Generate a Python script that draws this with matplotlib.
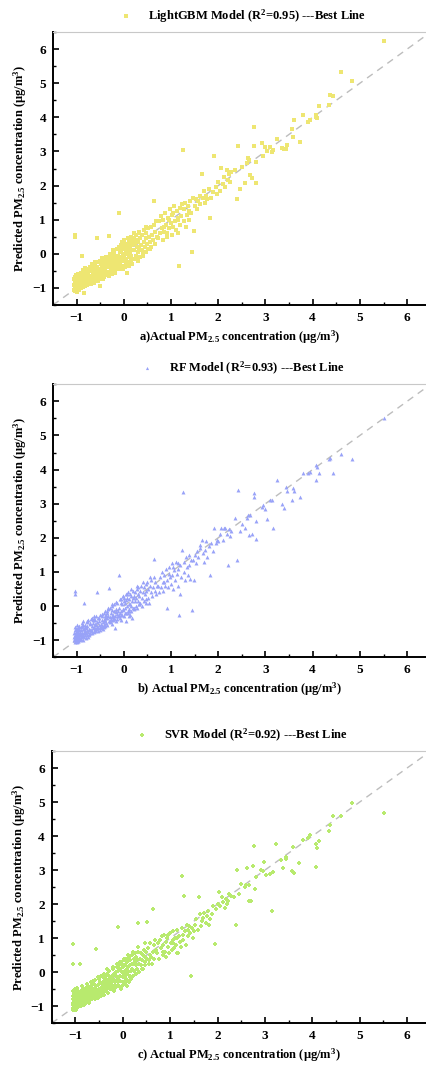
import matplotlib
matplotlib.use("Agg")
import matplotlib.pyplot as plt
from matplotlib.ticker import MultipleLocator

# actual PM2.5 values (same test set for all three models), grouped in bands of x
actual = [
    # tail x >= 2.35
    5.52, 4.83, 4.61, 4.44, 4.37, 4.35, 4.14, 4.10, 4.08, 4.07, 3.95, 3.90, 3.80, 3.73, 3.61,
    3.59, 3.57, 3.45, 3.44, 3.39, 3.34, 3.24, 3.17, 3.14, 3.10, 3.03, 2.99, 2.95, 2.92, 2.81,
    2.79, 2.76, 2.75, 2.71, 2.67, 2.66, 2.62, 2.60, 2.57, 2.50, 2.46, 2.42, 2.39, 2.35,
    # 1.45 - 2.3
    2.28, 2.25, 2.22, 2.20, 2.18, 2.15, 2.12, 2.10, 2.06, 2.03, 2.00, 1.97, 1.95, 1.91,
    1.88, 1.85, 1.82, 1.80, 1.77, 1.75, 1.72, 1.70, 1.68, 1.65, 1.62, 1.61, 1.58, 1.55,
    1.52, 1.50, 1.49, 1.47, 1.45,
    # 0.7 - 1.45
    0.72, 0.74, 0.76, 0.78, 0.80, 0.82, 0.84, 0.86, 0.88, 0.90,
    0.91, 0.92, 0.94, 0.96, 0.98, 1.00, 1.01, 1.03, 1.05, 1.06,
    1.08, 1.10, 1.12, 1.14, 1.15, 1.17, 1.19, 1.20, 1.22, 1.24,
    1.25, 1.27, 1.28, 1.30, 1.32, 1.33, 1.35, 1.37, 1.38, 1.40,
    1.42, 0.85, 0.95, 1.05, 1.15,
    # 0.2 - 0.7
    0.21, 0.22, 0.23, 0.24, 0.25, 0.26, 0.27, 0.28, 0.29, 0.30,
    0.31, 0.32, 0.33, 0.34, 0.35, 0.36, 0.38, 0.39, 0.40, 0.42,
    0.43, 0.44, 0.46, 0.47, 0.48, 0.50, 0.51, 0.52, 0.54, 0.55,
    0.57, 0.58, 0.60, 0.62, 0.63, 0.64, 0.66, 0.67, 0.68, 0.70,
    # -0.1 - 0.2
    -0.09, -0.08, -0.07, -0.06, -0.05, -0.05, -0.04, -0.03, -0.02, -0.01,
    0.00, 0.00, 0.01, 0.02, 0.03, 0.04, 0.05, 0.05, 0.06, 0.07,
    0.08, 0.09, 0.10, 0.10, 0.11, 0.12, 0.13, 0.14, 0.15, 0.15,
    0.16, 0.17, 0.18, 0.19, 0.20, 0.20, -0.02, 0.04, 0.08, 0.13,
    # -0.4 - -0.1
    -0.39, -0.38, -0.37, -0.36, -0.35, -0.35, -0.34, -0.33, -0.32, -0.31,
    -0.30, -0.30, -0.29, -0.28, -0.27, -0.26, -0.25, -0.25, -0.24, -0.23,
    -0.22, -0.21, -0.20, -0.20, -0.19, -0.18, -0.17, -0.16, -0.15, -0.15,
    -0.14, -0.13, -0.12, -0.11, -0.10, -0.10, -0.35, -0.28, -0.22, -0.16,
    # -0.7 - -0.4
    -0.69, -0.68, -0.68, -0.67, -0.66, -0.66, -0.65, -0.64, -0.63, -0.63,
    -0.62, -0.61, -0.60, -0.60, -0.59, -0.58, -0.57, -0.56, -0.56, -0.55,
    -0.54, -0.53, -0.52, -0.51, -0.50, -0.50, -0.49, -0.48, -0.47, -0.46,
    -0.46, -0.45, -0.44, -0.43, -0.42, -0.42, -0.41, -0.40, -0.40, -0.40,
    # -0.92 - -0.7
    -0.91, -0.91, -0.90, -0.90, -0.89, -0.89, -0.88, -0.88, -0.87, -0.87,
    -0.86, -0.86, -0.85, -0.85, -0.84, -0.84, -0.83, -0.83, -0.82, -0.82,
    -0.81, -0.80, -0.80, -0.79, -0.78, -0.78, -0.77, -0.76, -0.76, -0.75,
    -0.74, -0.73, -0.72, -0.72, -0.71, -0.70,
    # lowest values
    -1.05, -1.05, -1.05, -1.04, -1.04, -1.04, -1.04, -1.03, -1.03, -1.03,
    -1.02, -1.02, -1.02, -1.01, -1.01, -1.01, -1.00, -1.00, -1.00, -1.00,
    -0.99, -0.99, -0.99, -0.98, -0.98, -0.98, -0.97, -0.97, -0.97, -0.96,
    -0.96, -0.96, -0.95, -0.95, -0.95, -0.94, -0.94, -0.93, -0.93, -0.92,
    -1.04, -1.04,
    # more of the dense core
    -1.00, -0.97, -0.94, -0.90, -0.86, -0.83, -0.80, -0.77, -0.74, -0.71,
    -0.67, -0.64, -0.61, -0.58, -0.55, -0.52, -0.49, -0.46, -0.43, -0.40,
    -0.37, -0.33, -0.29, -0.25, -0.21, -0.17, -0.13, -0.09, -0.05, -0.01,
    0.03, 0.07, 0.11, 0.16, 0.21, 0.27, 0.33, 0.40, 0.47, 0.55]

pred_lgbm = [
    6.23, 5.06, 5.34, 4.63, 4.65, 4.36, 4.33, 3.97, 4.07, 4.02, 3.92, 3.85, 4.07, 3.27, 3.92,
    3.41, 3.65, 3.19, 3.07, 3.07, 3.10, 3.38, 3.05, 2.98, 3.14, 3.00, 3.14, 2.87, 3.24, 2.70,
    2.09, 3.71, 3.17, 2.22, 2.32, 2.75, 2.80, 2.65, 2.07, 2.55, 1.90, 3.16, 1.61, 2.45,
    2.40, 2.10, 2.35, 2.15, 2.45, 1.95, 2.25, 2.05, 2.51, 1.85, 2.10, 1.75, 1.95, 2.87,
    1.80, 1.65, 1.05, 1.90, 1.60, 1.70, 1.50, 1.85, 1.65, 2.33, 1.45, 1.70, 1.55, 1.30,
    1.60, 1.40, 0.68, 1.65, 0.04,
    0.45, 0.95, 0.60, 1.10, 0.75, 0.40, 1.00, 0.65, 1.20, 0.85,
    0.60, 0.50, 1.05, 0.75, 1.30, 0.90, 0.55, 1.15, 0.80, 1.40,
    0.95, 0.70, 1.25, 1.00, 0.60, -0.37, 1.35, 0.85, 1.10, 1.45,
    3.03, 0.95, 1.30, 1.50, 0.80, 1.15, 1.40, 1.00, 1.25, 1.55,
    1.20, 0.80, 1.00, 1.20, 1.05,
    0.10, 0.45, -0.15, 0.30, 0.55, -0.05, 0.20, 0.40, -0.20, 0.05,
    0.35, 0.60, 0.15, -0.10, 0.45, 0.25, 0.10, 0.55, -0.05, 0.35,
    0.70, 0.20, 0.45, 0.05, 0.60, 0.30, 0.75, 0.15, 0.50, 0.35,
    0.80, 0.20, 0.55, 0.40, 0.85, 1.56, 0.30, 0.65, 0.95, 0.50,
    -0.30, 0.05, -0.20, 0.25, -0.45, 0.10, -0.10, 0.35, -0.35, 0.00,
    -0.20, 0.40, -0.05, 0.20, -0.40, 0.10, -0.15, 0.30, -0.55, 0.00,
    0.45, -0.25, 0.15, -0.10, 0.30, -0.35, 0.05, 0.20, -0.20, 0.50,
    -0.05, 0.25, -0.30, 0.10, 0.35, -0.15, 0.15, -0.28, 0.22, 0.38,
    -0.45, -0.20, -0.60, -0.30, -0.10, -0.52, -0.38, -0.22, -0.65, 0.51,
    -0.40, -0.15, -0.55, -0.30, -0.05, -0.45, -0.25, -0.60, -0.10, -0.35,
    0.10, -0.48, -0.20, -0.02, -0.38, -0.55, -0.12, -0.30, 0.15, -0.45,
    -0.20, -0.05, -0.35, 0.20, 1.20, -0.15, -0.35, -0.48, -0.28, -0.40,
    -0.75, -0.50, -0.30, -0.82, -0.62, -0.40, -0.70, -0.55, -0.85, -0.35,
    -0.60, -0.45, -0.78, -0.25, -0.65, -0.52, -0.72, 0.47, -0.38, -0.58,
    -0.80, -0.45, -0.66, -0.94, -0.50, -0.20, -0.62, -0.70, -0.35, -0.55,
    -0.12, -0.75, -0.42, -0.60, -0.28, -0.50, -0.68, -0.38, -0.15, -0.55,
    -0.95, -0.70, -1.00, -0.55, -0.85, -0.07, -0.92, -0.65, -0.78, -0.48,
    -0.98, -0.72, -1.14, -0.60, -0.88, -0.50, -0.80, -0.68, -0.93, -0.42,
    -0.75, -0.87, -0.58, -0.66, -0.90, -0.45, -0.72, -0.82, -0.55, -0.62,
    -0.85, -0.50, -0.78, -0.40, -0.66, -0.88,
    -1.05, -0.90, -0.75, -1.10, -0.95, -0.82, -0.68, -1.00, -0.88, -0.72,
    -1.08, -0.93, -0.80, -0.98, -0.85, -0.62, -1.12, -0.96, -0.78, -0.66,
    -1.02, -0.87, -0.74, -0.95, -0.83, -0.60, -1.05, -0.90, -0.70, -0.99,
    -0.80, -0.65, -1.07, -0.92, -0.76, -0.86, -0.58, -1.00, -0.72, -0.84,
    0.55, 0.49,
    -0.70, -0.62, -0.80, -0.75, -0.60, -0.95, -0.52, -0.80, -0.48, -0.75,
    -0.45, -0.80, -0.35, -0.70, -0.25, -0.75, -0.30, -0.68, -0.20, -0.62,
    -0.10, -0.55, 0.00, -0.50, 0.05, -0.45, 0.15, -0.40, 0.20, -0.45,
    0.30, -0.35, 0.40, -0.25, 0.60, -0.10, 0.65, 0.05, 0.80, 0.15]

pred_rf = [
    5.50, 4.31, 4.46, 3.89, 4.33, 4.30, 3.89, 4.07, 4.14, 3.70, 3.94, 3.89, 3.89, 3.21, 3.36,
    3.47, 3.11, 3.38, 3.50, 2.87, 3.00, 3.70, 2.28, 3.11, 3.11, 2.55, 2.85, 2.95, 2.90, 2.48,
    1.97, 3.31, 3.19, 2.10, 2.67, 2.09, 2.67, 2.59, 2.30, 2.40, 2.20, 3.40, 1.36, 2.59,
    2.20, 2.05, 2.25, 1.20, 2.10, 2.28, 2.28, 1.95, 2.28, 2.10, 1.90, 1.95, 1.85, 2.28,
    1.60, 1.85, 0.90, 1.75, 1.45, 1.90, 1.65, 1.30, 1.55, 1.95, 1.70, 1.80, 1.45, 1.60,
    1.25, 1.50, 0.75, 1.35, -0.12,
    0.60, 0.40, 0.85, 0.55, 1.00, 0.70, 0.45, 0.90, 0.60, 1.10,
    -0.05, 0.75, 0.55, 1.15, 0.85, 0.65, 1.25, 0.90, 0.50, 1.05,
    0.75, 1.30, 0.95, 0.60, 1.10, -0.26, 0.34, 1.20, 0.85, 1.65,
    3.33, 1.00, 1.30, 0.75, 1.45, 1.15, 0.90, 1.50, 1.20, 0.80,
    1.35, 0.70, 0.95, 1.15, 1.25,
    0.30, -0.10, 0.15, 0.40, 0.00, 0.25, 0.50, -0.05, 0.35, 0.15,
    0.55, 0.05, 0.30, 0.45, 0.10, 0.60, 0.25, 0.00, 0.40, 0.55,
    0.15, 0.35, 0.65, 0.20, 0.45, 0.70, 0.25, 0.50, 0.10, 0.60,
    0.40, 0.75, 0.30, 0.55, 0.85, 1.39, 0.45, 0.70, 0.35, 0.60,
    -0.20, -0.35, 0.10, -0.15, 0.20, -0.40, 0.05, -0.25, 0.30, -0.10,
    0.15, -0.30, 0.25, -0.05, 0.10, -0.45, 0.35, -0.20, 0.00, 0.25,
    -0.15, 0.40, -0.30, 0.05, -0.10, 0.20, -0.25, 0.35, 0.00, -0.15,
    0.30, -0.35, 0.15, 0.45, -0.05, 0.25, -0.12, 0.18, -0.20, 0.05,
    -0.40, -0.25, -0.50, -0.15, -0.35, -0.55, -0.28, -0.10, -0.45, 0.53,
    -0.32, -0.05, -0.48, -0.20, -0.38, -0.12, -0.30, -0.52, 0.00, -0.25,
    -0.42, -0.15, -0.35, 0.05, -0.64, -0.28, -0.45, -0.10, -0.22, 0.10,
    -0.38, -0.15, -0.30, -0.05, 0.92, -0.25, -0.20, -0.40, -0.32, -0.18,
    -0.70, -0.58, -0.35, -0.80, -0.50, -0.65, -0.42, -0.75, -0.60, -0.30,
    -0.68, -0.52, -0.72, -0.40, -0.55, -0.66, -0.48, 0.42, -0.62, -0.35,
    -0.74, -0.56, -0.44, -0.60, -0.70, -0.25, -0.52, -0.64, -0.40, -0.58,
    -0.30, -0.66, -0.48, -0.55, -0.20, -0.62, -0.45, -0.35, -0.58, -0.28,
    -0.90, -0.62, -0.96, -0.70, -0.80, -0.50, -0.88, -0.58, -1.00, -0.66,
    -0.85, -0.45, -0.92, -0.68, 0.09, -0.76, -0.86, -0.55, -0.72, -0.60,
    -0.95, -0.64, -0.80, -0.48, -0.84, -0.70, -0.58, -0.92, -0.42, -0.75,
    -0.66, -0.85, -0.52, -0.70, -0.80, -0.38,
    -1.00, -0.92, -0.80, -1.05, -0.97, -0.88, -0.70, -0.95, -0.85, -0.60,
    -1.02, -0.90, -0.75, -1.00, -0.82, -0.68, -1.06, -0.93, -0.85, -0.55,
    -0.98, -0.88, -0.72, -1.03, -0.80, -0.65, -0.96, -0.86, -0.62, -1.01,
    -0.78, -0.70, -0.94, -0.84, -0.58, -0.90, -0.66, -0.98, -0.75, -0.82,
    0.44, 0.34,
    -0.75, -0.90, -0.70, -0.85, -0.55, -0.78, -0.62, -0.45, -0.82, -0.50,
    -0.72, -0.38, -0.70, -0.28, -0.65, -0.35, -0.60, -0.22, -0.55, -0.15,
    -0.50, -0.05, -0.45, 0.05, -0.38, 0.12, -0.30, 0.22, -0.25, 0.30,
    -0.20, 0.35, -0.15, 0.50, -0.05, 0.60, 0.05, 0.70, 0.10, 0.85]

pred_svr = [
    4.69, 4.98, 4.60, 4.60, 4.33, 4.15, 3.87, 3.64, 3.77, 3.09, 4.04, 3.94, 3.89, 3.21, 2.93,
    3.69, 2.96, 3.40, 3.33, 3.05, 3.30, 3.77, 2.95, 1.79, 2.90, 2.87, 3.23, 2.96, 3.00, 2.80,
    2.45, 3.72, 3.11, 2.08, 2.08, 2.55, 3.06, 2.55, 2.50, 2.60, 2.30, 2.99, 1.38, 2.20,
    2.25, 2.30, 2.10, 2.00, 2.15, 1.90, 2.05, 2.20, 1.95, 2.35, 2.00, 1.85, 0.84, 1.95,
    1.70, 1.55, 1.40, 1.80, 1.65, 1.45, 1.75, 1.60, 1.50, 1.35, 1.70, 2.22, 1.25, 1.55,
    1.40, 1.20, 1.00, 1.30, -0.11,
    0.55, 0.85, 0.40, 0.95, 0.70, 1.05, 0.50, 0.80, 1.10, 0.60,
    0.90, 0.45, 1.00, 0.75, 0.55, 1.15, 0.85, 0.65, 1.20, 0.95,
    0.70, 1.00, 0.80, 1.25, 0.55, 0.55, 1.05, 0.90, 0.75, 1.30,
    2.82, 1.10, 0.95, 2.23, 1.20, 0.80, 1.40, 1.05, 1.25, 1.35,
    1.15, 0.60, 1.10, 0.85, 1.00,
    -0.10, 0.25, 0.40, 0.05, 0.30, 0.55, -0.05, 0.20, 0.45, 0.10,
    0.35, 0.60, 1.45, 0.25, 0.00, 0.40, 0.55, 0.20, 0.35, 0.10,
    0.50, 0.65, 0.30, 0.45, 0.20, 0.60, 0.40, 1.48, 0.70, 0.35,
    0.50, 0.85, 0.45, 0.25, 0.60, 1.86, 0.80, 0.40, 0.95, 0.65,
    0.05, -0.40, 0.20, -0.25, 0.10, -0.10, 0.30, -0.50, 0.00, 0.25,
    -0.30, 0.15, -0.15, 0.35, -0.05, 0.20, -0.35, 0.05, 0.40, -0.20,
    0.10, -0.05, 0.30, -0.40, 0.15, 0.00, 0.45, -0.25, 0.20, -0.10,
    0.35, 0.05, -0.20, 0.25, 0.10, 0.50, 0.22, -0.12, 0.08, -0.30,
    -0.50, -0.30, -0.15, -0.55, -0.40, -0.20, -0.05, -0.45, -0.30, -0.60,
    -0.25, -0.10, -0.40, 0.05, -0.32, -0.50, -0.18, -0.38, -0.45, -0.10,
    -0.28, 0.10, -0.40, -0.20, -0.55, -0.05, -0.30, -0.45, 0.00, -0.25,
    -0.12, -0.40, 0.15, -0.30, 1.34, -0.20, -0.35, -0.22, -0.50, -0.08,
    -0.80, -0.60, -0.40, -0.70, -0.55, -0.30, -0.78, -0.62, -0.48, -0.25,
    -0.72, -0.58, -0.66, -0.35, -0.80, -0.50, -0.60, 0.67, -0.42, -0.70,
    -0.55, -0.38, -0.75, -0.48, -0.62, -0.20, -0.66, -0.52, -0.30, -0.58,
    -0.45, -0.70, -0.35, -0.50, -0.62, -0.15, -0.55, -0.40, -0.68, -0.25,
    -0.98, -0.68, 0.23, -0.80, -0.90, -0.55, -1.00, -0.72, -0.85, -0.40,
    -0.92, -0.64, -0.96, -0.58, -0.78, -0.48, -0.88, -0.62, -0.95, -0.70,
    -0.52, -0.84, -0.66, -0.92, -0.74, -0.45, -0.86, -0.60, -0.70, -0.35,
    -0.80, -0.55, -0.90, -0.62, -0.48, -0.75,
    -1.10, -0.95, -0.78, -1.05, -0.90, -0.70, -0.55, -1.12, -0.85, -0.65,
    -1.00, -0.88, -0.72, -1.08, -0.80, -0.60, -1.03, -0.92, -0.76, -0.50,
    -1.10, -0.84, -0.68, -0.98, -0.86, -0.58, -1.06, -0.75, -0.62, -0.95,
    -0.82, -0.45, -1.02, -0.88, -0.70, -0.93, -0.60, -0.97, -0.78, -0.66,
    0.82, 0.23,
    -0.65, -1.00, -0.55, -0.95, -0.68, -0.50, -0.90, -0.58, -0.40, -0.85,
    -0.30, -0.62, -0.75, -0.22, -0.70, -0.15, -0.58, -0.10, -0.65, -0.05,
    -0.55, 0.10, -0.45, -0.35, 0.15, -0.38, 0.25, -0.30, 0.30, -0.40,
    0.40, -0.25, 0.50, -0.15, 0.60, -0.05, 0.75, 0.10, 0.85, 0.25]

models = ["LightGBM", "RF", "SVR"]
r2 = [0.95, 0.93, 0.92]
panel_tags = ["a)", "b) ", "c) "]
colors = ["#EEE672", "#98A2F8", "#B8EA6E"]
markers = ["s", "^", "P"]

plt.rcParams["font.family"] = ["Liberation Serif", "DejaVu Serif"]
plt.rcParams["font.weight"] = "bold"
plt.rcParams["mathtext.fontset"] = "custom"
plt.rcParams["mathtext.rm"] = "Liberation Serif:bold"
plt.rcParams["mathtext.it"] = "Liberation Serif:bold"
plt.rcParams["mathtext.bf"] = "Liberation Serif:bold"

fig = plt.figure(figsize=(4.26, 10.68), dpi=100)
# [left, bottom, width, height] in figure fraction
boxes = [[0.1244, 0.7144, 0.8756, 0.2556],
         [0.1244, 0.3846, 0.8756, 0.2556],
         [0.1213, 0.0419, 0.8787, 0.2549]]

preds = [pred_lgbm, pred_rf, pred_svr]
for i in range(3):
    ax = fig.add_axes(boxes[i])
    ax.plot([-1.5, 6.6], [-1.5, 6.6], ls=(0, (5, 4)), color="#BDBDBD", lw=1.0, zorder=1)
    label = f"{models[i]} Model (R$^2$={r2[i]:.2f}) ---Best Line"
    ax.scatter(actual, preds[i], s=8, marker=markers[i], color=colors[i],
               linewidths=0, zorder=2, label=label)
    ax.set_xlim(-1.5, 6.4)
    ax.set_ylim(-1.5, 6.5)
    ax.xaxis.set_major_locator(MultipleLocator(1))
    ax.xaxis.set_minor_locator(MultipleLocator(0.5))
    ax.yaxis.set_major_locator(MultipleLocator(1))
    ax.yaxis.set_minor_locator(MultipleLocator(0.5))
    ax.tick_params(which="major", direction="in", length=4, width=1.2, labelsize=9.5, pad=5)
    ax.tick_params(which="minor", direction="in", length=2.5, width=1.0)
    for t in ax.get_xticklabels() + ax.get_yticklabels():
        t.set_fontweight("bold")
    ax.spines["left"].set_linewidth(1.4)
    ax.spines["bottom"].set_linewidth(1.4)
    ax.spines["top"].set_color("#C8C8C8")
    ax.spines["top"].set_linewidth(0.8)
    ax.spines["right"].set_visible(False)
    ax.set_ylabel("Predicted PM$_{2.5}$ concentration (μg/m$^3$)", fontsize=9, fontweight="bold",
                  labelpad=2)
    ax.set_xlabel(panel_tags[i] + "Actual PM$_{2.5}$ concentration (μg/m$^3$)", fontsize=9,
                  fontweight="bold", labelpad=3)
    ax.legend(loc="lower center", bbox_to_anchor=(0.5, 1.0), frameon=False,
              prop={"size": 9, "weight": "bold"}, handletextpad=0.8, markerscale=0.8,
              borderaxespad=0.2)

fig.savefig("out.png", dpi=100)
